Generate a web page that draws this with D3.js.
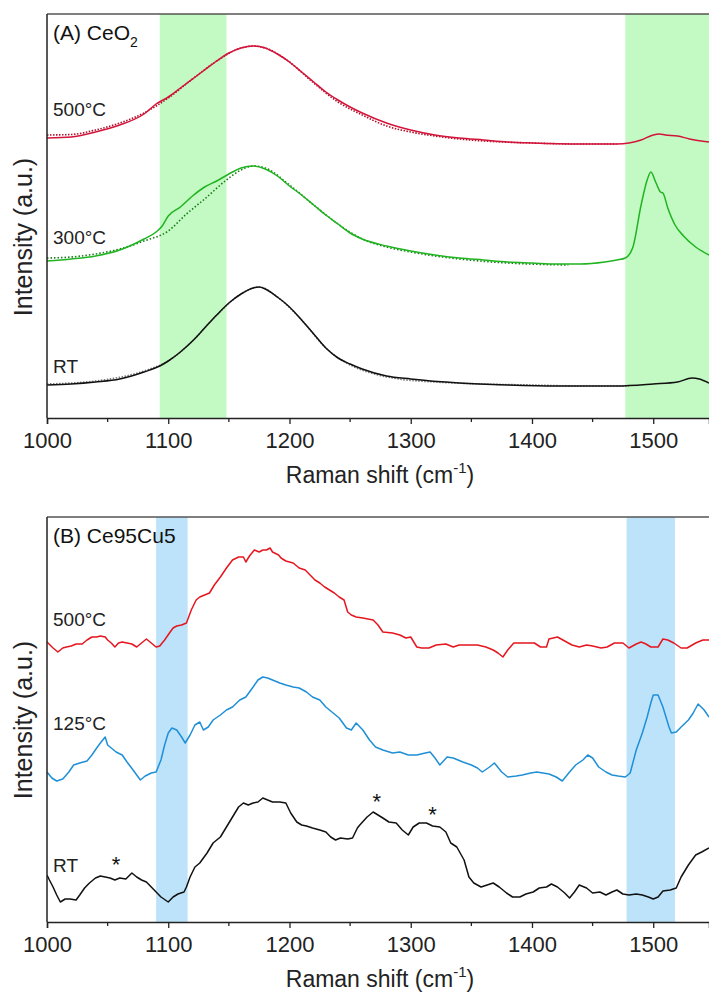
<!DOCTYPE html>
<html>
<head>
<meta charset="utf-8">
<script src="https://cdn.jsdelivr.net/npm/d3@7"></script>
<style>
  body { margin: 0; background: #fff; }
  svg { display: block; font-family: "Liberation Sans", Arial, sans-serif; }
</style>
</head>
<body>
<svg id="chart"></svg>
<script>
// Raman shift (cm-1) vs intensity (a.u.)

// Panel A: CeO2
const ceo2_500 = [[1000,280],[1020,281],[1040,286],[1060,293],[1080,304],[1090,314],[1100,321],[1110,330],[1120,339],[1130,348],[1140,357],[1150,365],[1160,370],[1170,372],[1180,370],[1190,364],[1200,356],[1210,346],[1220,336],[1230,326],[1240,318],[1250,311],[1260,305],[1280,295],[1300,288],[1320,283],[1340,280],[1360,278],[1380,276],[1400,275],[1440,274],[1470,274],[1480,275],[1490,278],[1500,283],[1505,284],[1510,283],[1520,282],[1530,279],[1546,276]];
const ceo2_500_fit = [[1000,283],[1020,283.5],[1040,288],[1060,295],[1080,305],[1100,320],[1120,339],[1140,357],[1160,370],[1170,372],[1180,370],[1200,356],[1220,335],[1240,316],[1260,303],[1280,292],[1300,286],[1320,282],[1340,279],[1360,277],[1400,275],[1440,274],[1470,274]];
const ceo2_300 = [[1000,157],[1020,159],[1040,162],[1060,168],[1080,179],[1090,186],[1095,192],[1100,202],[1110,211],[1120,222],[1130,231],[1140,237],[1150,244],[1160,250],[1170,252],[1180,249],[1190,242],[1200,232],[1210,223],[1220,213],[1230,203],[1240,194],[1250,185],[1260,179],[1280,172],[1300,167],[1320,163],[1340,160],[1360,158],[1380,156],[1400,155],[1420,154],[1440,154],[1460,156],[1470,158],[1477,160],[1483,170],[1490,213],[1495,238],[1498,246],[1502,236],[1506,226],[1508,225],[1512,210],[1518,193],[1525,182],[1535,171],[1546,163]];
const ceo2_300_fit = [[1000,160],[1020,161],[1040,164],[1060,169],[1080,177],[1100,187],[1115,204],[1130,219],[1148,238],[1160,248],[1170,252],[1180,250],[1200,233],[1220,213],[1240,194],[1260,179],[1280,171],[1300,166],[1340,159],[1380,155],[1430,153]];
const ceo2_rt = [[1000,33],[1020,34],[1040,36],[1060,39],[1080,46],[1093,52],[1100,57],[1110,66],[1120,77],[1130,90],[1140,103],[1150,115],[1160,124],[1170,130],[1175,131],[1180,129],[1190,121],[1200,111],[1210,98],[1220,84],[1230,70],[1240,60],[1250,54],[1260,49],[1280,42],[1300,39],[1340,35],[1380,33],[1420,32],[1470,32],[1500,34],[1520,36],[1532,40],[1538,39],[1546,35]];
const ceo2_rt_fit = [[1000,34],[1040,37],[1080,47],[1100,57],[1120,77],[1140,103],[1160,124],[1175,131],[1190,121],[1210,98],[1230,70],[1250,53],[1270,44],[1290,39],[1320,36],[1360,34],[1400,33],[1440,32],[1480,32]];

// Panel B: Ce95Cu5
const cu5_500 = [[1000,280],[1002.5,277],[1005,274],[1009,270],[1013,274],[1016,275],[1020,276],[1024,278],[1029,278],[1033,282],[1037,285],[1041,285],[1044,286],[1048,285],[1050,282],[1053,279],[1056,275],[1059,279],[1062,280],[1066,279],[1070,278],[1074,275],[1078,279],[1082,283],[1086,279],[1090,275],[1093,276],[1097,282],[1101,289],[1104,294],[1107,296],[1111,297],[1115,299],[1119,312],[1123,322],[1126,325],[1130,327],[1134,329],[1138,337],[1143,345],[1148,354],[1153,362],[1158,365],[1162,365],[1164,360],[1167,366],[1171,372],[1175,370],[1178,372],[1181,372],[1184,374],[1186,370],[1191,367],[1193,364],[1197,361],[1203,359],[1208,354],[1213,352],[1217,347],[1221,342],[1225,339],[1229,335],[1233,332],[1237,329],[1241,325],[1245,322],[1248,310],[1251,307],[1255,305],[1260.5,304],[1269,302],[1273,297],[1277,290],[1285,289],[1291,287],[1296,284],[1300,285],[1305,275],[1309,274],[1315,274],[1321,277],[1329,278],[1335,275],[1340,277],[1348,277],[1355,277],[1362,275],[1368,272],[1372,269],[1376,265],[1380,272],[1385,279],[1392,279],[1402,279],[1407,275],[1412,275],[1414,283],[1421,285],[1427,281],[1433,277],[1439,275],[1445,277],[1450,276],[1457,274],[1462,275],[1468,279],[1475,279],[1480,274],[1486,278],[1490,280],[1494,278],[1498,275],[1504,275],[1508,283],[1512,282],[1517,279],[1523,274],[1528,274],[1535,279],[1541,282],[1546,282]];
const cu5_125 = [[1000,150],[1004,144],[1008,141],[1013,143],[1018,150],[1022,157],[1027,159],[1033,161],[1037,167],[1041,174],[1044,179],[1048,185],[1050,177],[1053,174],[1057,170],[1062,167],[1066,160],[1071,152],[1077,142],[1081,146],[1086,149],[1090,150],[1094,162],[1097,177],[1100,189],[1103,194],[1107,192],[1111,185],[1114,179],[1118,187],[1122,197],[1126,200],[1129,192],[1133,195],[1137,202],[1143,207],[1148,212],[1153,215],[1159,222],[1164,225],[1170,235],[1174,242],[1178,245],[1182,244],[1186,242],[1192,239],[1197,237],[1203,235],[1208,234],[1214,230],[1219,225],[1225,222],[1230,215],[1236,209],[1241,204],[1247,194],[1251,192],[1255,199],[1260.5,192],[1266,182],[1271,175],[1277,172],[1285,169],[1291,170],[1298,167],[1305,167],[1312,169],[1316,170],[1320,164],[1324,157],[1330,165],[1335,164],[1343,160],[1350,157],[1355,154],[1359,150],[1365,155],[1369,159],[1375,150],[1380,145],[1387,146],[1392,147],[1399,149],[1404,150],[1409,149],[1414,148],[1420,145],[1425,141],[1431,150],[1436,157],[1442,162],[1446,167],[1450,164],[1455,155],[1461,150],[1466,147],[1471,146],[1477,145],[1481,149],[1486,172],[1491,189],[1495,205],[1498,219],[1500,227],[1504,227],[1508,215],[1513,195],[1515,189],[1519,190],[1523,195],[1529,202],[1533,209],[1537,218],[1542,212],[1546,205]];
const cu5_rt = [[1000,47],[1002,42],[1005,35],[1008,27],[1011,20],[1015,23],[1019,23],[1024,22],[1027,27],[1031,34],[1035,39],[1040,44],[1044,46],[1048,45],[1052,44],[1056,42],[1060,44],[1065,43],[1070,49],[1074,45],[1078,42],[1082,40],[1086,35],[1090,30],[1094,25],[1100,20],[1104,25],[1108,28],[1113,30],[1115,35],[1118,45],[1122,55],[1126,59],[1132,69],[1137,79],[1143,85],[1148,95],[1153,105],[1158,115],[1162,119],[1166,117],[1170,119],[1174,120],[1178,124],[1182,122],[1186,120],[1192,120],[1197,119],[1201,109],[1206,100],[1210,97],[1214,96],[1219,94],[1225,92],[1230,90],[1234,85],[1238,82],[1242,84],[1248,83],[1252,84],[1256,94],[1258,97],[1264,105],[1269,110],[1273,107],[1277,104],[1282,100],[1288,99],[1293,92],[1298,87],[1302,95],[1307,99],[1313,99],[1318,96],[1324,95],[1329,90],[1333,79],[1338,75],[1344,62],[1348,45],[1352,39],[1358,35],[1363,37],[1368,39],[1373,35],[1379,29],[1384,25],[1390,25],[1395,28],[1401,30],[1406,34],[1412,35],[1416,38],[1421,35],[1427,29],[1431,24],[1435,30],[1439,37],[1445,34],[1450,29],[1456,30],[1461,27],[1466,30],[1470,32],[1475,28],[1480,27],[1486,28],[1491,27],[1496,25],[1500,23],[1504,25],[1508,31],[1514,32],[1519,34],[1523,45],[1529,57],[1535,67],[1540,70],[1546,74]];

// shaded ranges and markers
const bandsA = [[1093,1148],[1477,1546]];
const bandsB = [[1090,1116],[1478,1518]];
const starsB = [[1057,62],[1272,125],[1318,112]];
const xTicks = [1000,1100,1200,1300,1400,1500];
const xMinor = [1050,1150,1250,1350,1450,1550];

const width = 709, height = 992;
const marginLeft = 47;

const svg = d3.select("#chart")
    .attr("width", width)
    .attr("height", height);

const x = d3.scaleLinear().domain([1000, 1546]).range([marginLeft, width]);

function drawPanel(cfg) {
    const y = d3.scaleLinear().domain([0, cfg.bottom - cfg.top]).range([cfg.bottom, cfg.top]);
    const g = svg.append("g");

    const clipId = "clip-" + cfg.id;
    svg.append("defs").append("clipPath").attr("id", clipId)
        .append("rect")
        .attr("x", marginLeft).attr("y", cfg.top)
        .attr("width", width - marginLeft).attr("height", cfg.bottom - cfg.top);

    // shaded bands
    g.selectAll(".band")
        .data(cfg.bands)
        .join("rect")
        .attr("x", d => x(d[0]))
        .attr("y", cfg.top)
        .attr("width", d => x(d[1]) - x(d[0]))
        .attr("height", cfg.bottom - cfg.top)
        .attr("fill", cfg.bandColor);

    const line = d3.line().x(d => x(d[0])).y(d => y(d[1])).curve(cfg.curve);

    const plot = g.append("g").attr("clip-path", `url(#${clipId})`);
    cfg.series.forEach(s => {
        plot.append("path")
            .datum(s.data)
            .attr("d", line)
            .attr("fill", "none")
            .attr("stroke", s.color)
            .attr("stroke-width", s.dash ? 1.6 : 1.5)
            .attr("stroke-dasharray", s.dash || null)
            .attr("stroke-linejoin", "round");
    });

    // frame: top line and left axis
    g.append("line")
        .attr("x1", marginLeft).attr("x2", width)
        .attr("y1", cfg.top).attr("y2", cfg.top)
        .attr("stroke", "#555").attr("stroke-width", 1.5);
    g.append("line")
        .attr("x1", marginLeft).attr("x2", marginLeft)
        .attr("y1", cfg.top).attr("y2", cfg.bottom)
        .attr("stroke", "#222").attr("stroke-width", 1.5);

    // bottom axis
    const axis = g.append("g")
        .attr("transform", `translate(0,${cfg.bottom})`)
        .call(d3.axisBottom(x).tickValues(xTicks).tickSize(6).tickPadding(8).tickFormat(d3.format("d")));
    axis.select(".domain").attr("stroke", "#222").attr("stroke-width", 1.5);
    axis.selectAll(".tick line").attr("stroke", "#222").attr("stroke-width", 1.3);
    axis.selectAll(".tick text")
        .attr("font-size", 22)
        .attr("fill", "#222")
        .attr("font-family", "'Liberation Sans', Arial, sans-serif");
    axis.selectAll(".minor")
        .data(xMinor.filter(v => x(v) <= width))
        .join("line")
        .attr("class", "minor")
        .attr("x1", d => x(d)).attr("x2", d => x(d))
        .attr("y1", 0).attr("y2", 4)
        .attr("stroke", "#222").attr("stroke-width", 1.3);

    // x title
    const xt = g.append("text")
        .attr("x", 380).attr("y", cfg.bottom + 65)
        .attr("text-anchor", "middle")
        .attr("font-size", 23)
        .attr("fill", "#222");
    xt.append("tspan").text("Raman shift (cm");
    xt.append("tspan").attr("dy", -10).attr("font-size", 15).text("-1");
    xt.append("tspan").attr("dy", 10).text(")");

    // y title
    g.append("text")
        .attr("transform", `translate(32,${cfg.yLabelMid}) rotate(-90)`)
        .attr("text-anchor", "middle")
        .attr("font-size", 25)
        .attr("fill", "#222")
        .text("Intensity (a.u.)");

    // panel title
    const t = g.append("text")
        .attr("x", 53).attr("y", cfg.top + 26)
        .attr("font-size", 21)
        .attr("fill", "#111");
    t.append("tspan").text(cfg.title);
    if (cfg.sub) {
        t.append("tspan").attr("dy", 7).attr("font-size", 14).text(cfg.sub);
    }

    // series labels
    cfg.labels.forEach(l => {
        g.append("text")
            .attr("x", 53).attr("y", l.y)
            .attr("font-size", 19)
            .attr("fill", "#222")
            .text(l.text);
    });

    if (cfg.stars) {
        g.selectAll(".star")
            .data(cfg.stars)
            .join("text")
            .attr("class", "star")
            .attr("x", d => x(d[0]))
            .attr("y", d => y(d[1]) + 12)
            .attr("text-anchor", "middle")
            .attr("font-size", 22)
            .attr("fill", "#111")
            .text("*");
    }
}

drawPanel({
    id: "a", top: 14, bottom: 418, yLabelMid: 237,
    bands: bandsA, bandColor: "#c3f9c3",
    curve: d3.curveMonotoneX,
    title: "(A) CeO", sub: "2",
    series: [
        {data: ceo2_500_fit, color: "#b0102c", dash: "1.5,1.5"},
        {data: ceo2_500, color: "#d3143a"},
        {data: ceo2_300_fit, color: "#167a16", dash: "1.5,2"},
        {data: ceo2_300, color: "#20b420"},
        {data: ceo2_rt_fit, color: "#777", dash: "1.5,1.5"},
        {data: ceo2_rt, color: "#111"}
    ],
    labels: [{text: "500°C", y: 116}, {text: "300°C", y: 244}, {text: "RT", y: 373}]
});

drawPanel({
    id: "b", top: 517, bottom: 922, yLabelMid: 720,
    bands: bandsB, bandColor: "#bde3fa",
    curve: d3.curveLinear,
    title: "(B) Ce95Cu5",
    series: [
        {data: cu5_500, color: "#e5161f"},
        {data: cu5_125, color: "#1f8fd6"},
        {data: cu5_rt, color: "#111"}
    ],
    labels: [{text: "500°C", y: 626}, {text: "125°C", y: 730}, {text: "RT", y: 872}],
    stars: starsB
});
</script>
</body>
</html>
